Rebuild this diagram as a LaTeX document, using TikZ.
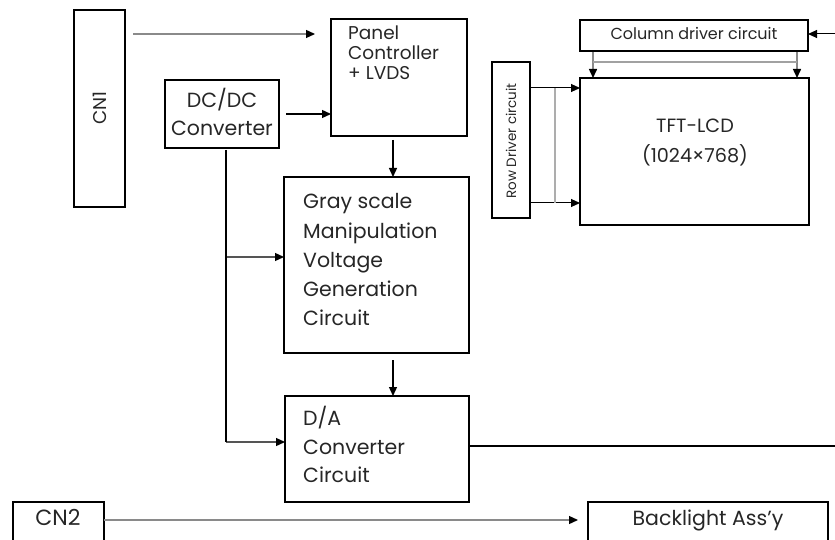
\documentclass[tikz,border=0pt]{standalone}
\usepackage{fontspec}
\setmainfont{Poppins}
\usetikzlibrary{arrows.meta,calc}
\definecolor{lgray}{HTML}{8A8A8A}
\definecolor{mgray}{HTML}{555555}
\begin{document}
\begin{tikzpicture}[x=1pt,y=-1pt,
  box/.style={draw=black,line width=1.4pt,rectangle,inner sep=0pt,outer sep=0pt},
  txt/.style={font=\fontsize{20.5}{24}\selectfont,inner sep=0pt,text=black!85},
  ptxt/.style={font=\fontsize{18.5}{22}\selectfont,inner sep=0pt,text=black!85},
  smalltxt/.style={font=\fontsize{16}{18}\selectfont,inner sep=0pt,text=black!85},
  tinytxt/.style={font=\fontsize{13.5}{15}\selectfont,inner sep=0pt,text=black!85},
  ar/.style={line width=1.3pt,-{Triangle[length=9pt,width=8pt,color=black]}},
  gar/.style={ar,draw=lgray},
  mar/.style={ar,draw=mgray},
  gl/.style={line width=1.3pt,draw=lgray},
  bl/.style={line width=1.4pt,draw=black}]
\clip (0,0) rectangle (835,540);
\useasboundingbox (0,0) rectangle (835,540);

% boxes
\node[box,minimum width=51pt,minimum height=197pt] (cn1) at (99.5,108.5) {};
\node[box,minimum width=136pt,minimum height=117pt] (panel) at (399,77.5) {};
\node[box,minimum width=114pt,minimum height=68pt] (dcdc) at (222,114) {};
\node[box,minimum width=185pt,minimum height=176pt] (gray) at (376.5,265) {};
\node[box,minimum width=184pt,minimum height=106pt] (da) at (377,449) {};
\node[box,minimum width=91pt,minimum height=42pt] (cn2) at (58.5,523) {};
\node[box,minimum width=240pt,minimum height=42pt] (bl) at (708,523) {};
\node[box,minimum width=38pt,minimum height=156pt] (row) at (511,140) {};
\node[box,minimum width=229pt,minimum height=147pt] (tft) at (694.5,151.5) {};
\node[box,minimum width=228pt,minimum height=31pt] (col) at (694,35.5) {};

% texts
\node[ptxt,rotate=90] (tcn1) at (100,108) {CN1};
\node[ptxt,anchor=mid west] (tp1) at (348,37) {Panel};
\node[ptxt,anchor=mid west] (tp2) at (348,57) {Controller};
\node[ptxt,anchor=mid west] (tp3) at (348,77) {+ LVDS};
\node[txt,anchor=mid] (td1) at (222,105) {DC/DC};
\node[txt,anchor=mid] (td2) at (222,133) {Converter};
\node[txt,anchor=mid west] (tg1) at (303,206) {Gray scale};
\node[txt,anchor=mid west] (tg2) at (303,236) {Manipulation};
\node[txt,anchor=mid west] (tg3) at (303,265) {Voltage};
\node[txt,anchor=mid west] (tg4) at (303,294) {Generation};
\node[txt,anchor=mid west] (tg5) at (303,323) {Circuit};
\node[txt,anchor=mid west] (ta1) at (303,423) {D/A};
\node[txt,anchor=mid west] (ta2) at (303,452) {Converter};
\node[txt,anchor=mid west] (ta3) at (303,480) {Circuit};
\node[font=\fontsize{22}{24}\selectfont,inner sep=0pt,text=black!85,anchor=mid] (tcn2) at (58,523) {CN2};
\node[txt,anchor=mid] (tbl) at (708,523) {Backlight Ass'y};
\node[font=\fontsize{19.2}{22}\selectfont,inner sep=0pt,text=black!85,anchor=mid] (tt1) at (695,130) {TFT-LCD};
\node[font=\fontsize{19.2}{22}\selectfont,inner sep=0pt,text=black!85,anchor=mid] (tt2) at (695,160) {(1024×768)};
\node[smalltxt,anchor=mid] (tcol) at (694,37) {Column driver circuit};
\node[tinytxt,rotate=90] (trow) at (511,141) {Row Driver circuit};

% connectors
\draw[gar] ([shift={(8,24)}]cn1.north east) -- ([shift={(-16,15)}]panel.north west);
\draw[ar] ([xshift=7pt]dcdc.east) -- (dcdc.east -| panel.west);
\draw[ar] ([shift={(-6,4)}]panel.south) coordinate (p1) -- (p1 |- gray.north);
\draw[ar] ([shift={(16.5,7)}]gray.south) coordinate (g1) -- (g1 |- da.north);
\coordinate (v1) at ([shift={(4,2)}]dcdc.south);
\coordinate (vg) at ([shift={(0,-8)}]gray.west);
\draw[mar] (v1 |- vg) -- (vg);
\coordinate (vd) at ([shift={(0,-7)}]da.west);
\draw[mar] (v1 |- vd) -- (vd);
\draw[bl] (v1) -- (v1 |- vd);
\coordinate (rgt) at (835,446);
\draw[bl] (da.east |- rgt) -- (rgt);
\coordinate (cn2a) at ([shift={(0,-3)}]cn2.east);
\draw[gar] (cn2a) -- ([shift={(-10,0)}]cn2a -| bl.west);
% row driver
\coordinate (r1) at ([shift={(0,26)}]row.north east);
\coordinate (r2) at ([shift={(0,-15)}]row.south east);
\draw[ar,line width=1pt] (r1) -- (r1 -| tft.west);
\draw[ar,line width=1pt] (r2) -- (r2 -| tft.west);
\draw[gl,draw=lgray!70] ([xshift=25pt]r1) -- ([xshift=25pt]r2);
% column driver
\coordinate (c1) at ([shift={(13,1)}]col.south west);
\coordinate (c2) at ([shift={(-11,1)}]col.south east);
\draw[ar,draw=lgray,line width=1.5pt] (c1) -- (c1 |- tft.north);
\draw[ar,draw=lgray,line width=1.5pt] (c2) -- (c2 |- tft.north);
\draw[gl,draw=lgray!80] ([shift={(0,10)}]c1) -- ([shift={(0,10)}]c2);
\coordinate (cin) at (835,34);
\draw[ar,line width=1pt] (cin) -- (cin -| col.east);
\end{tikzpicture}
\end{document}
